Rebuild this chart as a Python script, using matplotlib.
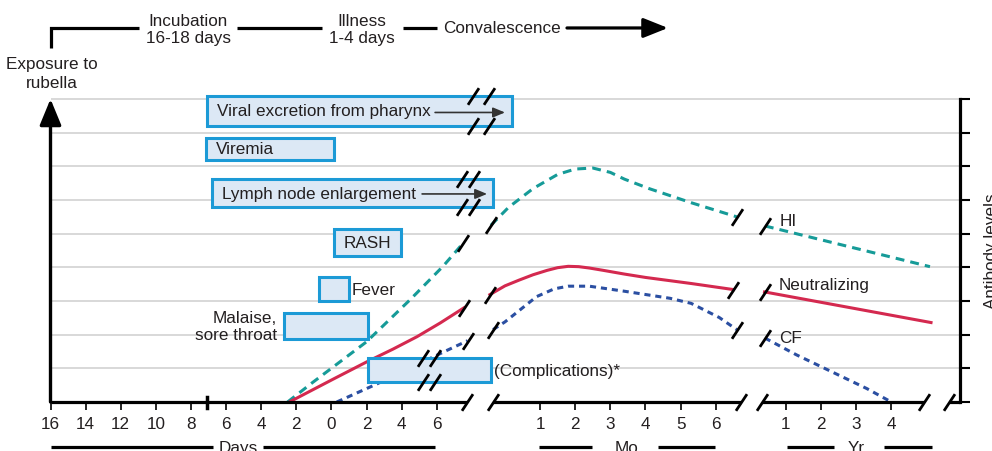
import matplotlib.pyplot as plt
import numpy as np

plt.rcParams['font.family'] = ['Liberation Sans', 'DejaVu Sans']

TEXT = '#231f20'
TEAL = '#169b98'
RED = '#d4294f'
BLUE = '#2b4fa2'
BOX_EDGE = '#1c9ad6'
BOX_FILL = '#dce8f5'
GRID = '#d2d2d2'
FS = 12.3


# x axis is in days; months and years are squeezed in after the breaks
def mo(m):
    return 9.88 + 2 * np.asarray(m, float)


def yr(y):
    return 23.88 + 2 * np.asarray(y, float)


# tick labels
day_ticks = list(range(-16, 7, 2))
day_labels = [str(abs(d)) for d in day_ticks]
month_ticks = [1, 2, 3, 4, 5, 6]
year_ticks = [1, 2, 3, 4]

# antibody curves (level in grid steps)
hi_days = [-2.5, -1.1, 2.0, 4.5, 6.35, 7.5]
hi_days_lvl = [0, 0.57, 1.79, 3.05, 4.03, 4.72]
hi_months = [-0.4, 0.1, 0.8, 1.5, 2.0, 2.5, 3.0, 3.4, 4.1, 5.3, 6.6]
hi_months_lvl = [5.25, 5.78, 6.34, 6.76, 6.92, 6.95, 6.82, 6.62, 6.34, 5.92, 5.5]
hi_years = [0.4, 5.1]
hi_years_lvl = [5.23, 4.02]

neut_days = [-2.4, 0.1, 2.0, 3.5, 4.87, 6.2, 7.55]
neut_days_lvl = [0, 0.68, 1.19, 1.57, 1.94, 2.35, 2.8]
neut_months = [-0.43, 0.0, 0.4, 0.8, 1.2, 1.5, 1.8, 2.1, 2.4, 2.8, 3.4, 4.0, 5.3, 6.5]
neut_months_lvl = [3.19, 3.45, 3.62, 3.78, 3.91, 3.99, 4.03, 4.02, 3.98, 3.91,
                   3.8, 3.70, 3.52, 3.34]
neut_years = [0.39, 5.13]
neut_years_lvl = [3.27, 2.36]

cf_days = [0.3, 2.6, 6.4, 7.75]
cf_days_lvl = [0, 0.54, 1.49, 1.82]
cf_months = [-0.34, 0.0, 0.9, 1.4, 1.8, 2.4, 3.4, 4.7, 5.3, 6.1, 6.6]
cf_months_lvl = [2.15, 2.38, 3.13, 3.36, 3.44, 3.44, 3.29, 3.08, 2.93, 2.51, 2.15]
cf_years = [0.4, 1.3, 2.3, 3.3, 4.0]
cf_years_lvl = [1.9, 1.4, 0.9, 0.4, 0.0]

# clinical events: start / end day
events = ['Viral excretion from pharynx', 'Viremia', 'Lymph node enlargement',
          'RASH', 'Fever', 'Malaise,\nsore throat', '(Complications)*']
ev_start = [-7.09, -7.14, -6.8, 0.15, -0.71, -2.7, 2.08]
ev_end = [10.28, 0.15, 9.2, 3.96, 1.0, 2.08, 9.08]

# layout of the event rows
rows = [(8.2, 9.09), (7.19, 7.84), (5.79, 6.62), (4.34, 5.14),
        (3.0, 3.71), (1.87, 2.64), (0.59, 1.31)]
label_pos = ['in', 'in', 'in', 'center', 'right', 'left', 'right']

SLASH = [(-0.33, -0.5), (0.33, 0.5)]


def slash(ax, xs, ys, size=12):
    ax.plot(xs, ys, ls='none', marker=SLASH, ms=size, mec='k', mew=2,
            clip_on=False, zorder=6)


fig = plt.figure(figsize=(9.92, 4.52), dpi=100)
ax = fig.add_axes([50.5 / 992, 49 / 452, 909.5 / 992, 303 / 452])
x_right = float(yr(5.955))
ax.set_xlim(-16, x_right)
ax.set_ylim(0, 9)
for s in ax.spines.values():
    s.set_visible(False)

# grid lines
ax.hlines(np.arange(1, 10), -16, x_right, color=GRID, lw=1.2, zorder=0, clip_on=False)

# x ticks
xt = day_ticks + list(mo(month_ticks)) + list(yr(year_ticks))
xl = day_labels + [str(m) for m in month_ticks] + [str(y) for y in year_ticks]
ax.set_xticks(xt, xl)
ax.set_yticks([])
ax.tick_params(axis='x', direction='out', length=6, width=1.2, pad=4,
               labelsize=FS, labelcolor=TEXT, color='k')

# broken bottom axis
seg = dict(color='k', lw=2.3, clip_on=False, solid_capstyle='butt', zorder=5)
ax.plot([-16, 7.72], [0, 0], **seg)
ax.plot(mo([-0.34, 6.71]), [0, 0], **seg)
ax.plot(yr([0.31, 4.94]), [0, 0], **seg)
ax.plot(yr([5.63, 5.955]), [0, 0], **seg)
slash(ax, [7.72, mo(-0.34), mo(6.71), yr(0.31), yr(4.94), yr(5.63)], [0] * 6)
ax.plot([-7.1, -7.1], [-0.18, 0.15], color='k', lw=2.5, clip_on=False)

# left axis arrow
ax.annotate('', xy=(-16, 9.0), xytext=(-16, 0), annotation_clip=False,
            arrowprops=dict(arrowstyle='-|>,head_length=0.8,head_width=0.33',
                            mutation_scale=20, lw=2.4, color='k',
                            shrinkA=0, shrinkB=0))

# right axis
ax2 = ax.twinx()
ax2.set_ylim(0, 9)
ax2.set_yticks(range(10))
ax2.set_yticklabels([])
for s in ['left', 'top', 'bottom']:
    ax2.spines[s].set_visible(False)
ax2.spines['right'].set_linewidth(2.3)
ax2.tick_params(axis='y', direction='out', length=7, width=1.5)
ax2.set_ylabel('Antibody levels', fontsize=FS, labelpad=7, color=TEXT)

# antibody curves
curves = [
    (hi_days, hi_days_lvl, hi_months, hi_months_lvl, hi_years, hi_years_lvl,
     TEAL, (0, (2.9, 2.0))),
    (neut_days, neut_days_lvl, neut_months, neut_months_lvl, neut_years,
     neut_years_lvl, RED, '-'),
    (cf_days, cf_days_lvl, cf_months, cf_months_lvl, cf_years, cf_years_lvl,
     BLUE, (0, (2.0, 1.6))),
]
for d, dl, m, ml, y, yl, col, ls in curves:
    ax.plot(d, dl, color=col, lw=2.2, ls=ls, zorder=2)
    ax.plot(mo(m), ml, color=col, lw=2.2, ls=ls, zorder=2)
    ax.plot(yr(y), yl, color=col, lw=2.2, ls=ls, zorder=2)
    slash(ax, [d[-1], mo(m[0]), mo(m[-1]), yr(y[0])], [dl[-1], ml[0], ml[-1], yl[0]])

ax.text(yr(0.83), 5.4, 'HI', fontsize=FS, color=TEXT, va='center')
ax.text(yr(0.8), 3.5, 'Neutralizing', fontsize=FS, color=TEXT, va='center')
ax.text(yr(0.8), 1.93, 'CF', fontsize=FS, color=TEXT, va='center')

# event boxes
for name, x0, x1, (y0, y1), lp in zip(events, ev_start, ev_end, rows, label_pos):
    ax.add_patch(plt.Rectangle((x0, y0), x1 - x0, y1 - y0, fc=BOX_FILL,
                               ec=BOX_EDGE, lw=2.2, zorder=4, clip_on=False))
    yc = (y0 + y1) / 2
    if lp == 'in':
        ax.text(x0 + 0.55, yc, name, fontsize=FS, color=TEXT, va='center', zorder=7)
    elif lp == 'center':
        ax.text((x0 + x1) / 2, yc, name, fontsize=FS, color=TEXT,
                ha='center', va='center', zorder=7)
    elif lp == 'right':
        ax.text(x1 + 0.15, yc, name, fontsize=FS, color=TEXT, va='center', zorder=7)
    else:
        ax.text(x0 - 0.4, yc, name, fontsize=FS, color=TEXT, ha='right',
                va='center', multialignment='right', linespacing=1.2, zorder=7)

arrow_kw = dict(arrowstyle='-|>,head_length=0.6,head_width=0.25',
                mutation_scale=12, lw=1.2, color='#333333', shrinkA=0, shrinkB=0)
ax.annotate('', xy=(9.88, 8.6), xytext=(5.9, 8.6), arrowprops=arrow_kw, zorder=7,
            annotation_clip=False)
ax.annotate('', xy=(8.86, 6.18), xytext=(5.16, 6.18), arrowprops=arrow_kw, zorder=7,
            annotation_clip=False)

# breaks across the boxes
slash(ax, [8.06, 8.97, 8.06, 8.97], [9.09, 9.09, 8.2, 8.2])
slash(ax, [7.43, 8.12, 7.43, 8.12], [6.62, 6.62, 5.79, 5.79])
slash(ax, [5.21, 5.9, 5.21, 5.9], [1.31, 1.31, 0.59, 0.59])

# header: phases of infection
hdr = dict(color='k', lw=2.3, clip_on=False, solid_capstyle='butt')
ax.plot([-16, -16, -10.96], [10.51, 11.11, 11.11], solid_joinstyle='miter', **hdr)
ax.text(-8.16, 11.08, 'Incubation\n16-18 days', fontsize=FS, color=TEXT,
        ha='center', va='center', linespacing=1.2)
ax.plot([-5.38, -0.54], [11.11, 11.11], **hdr)
ax.text(1.74, 11.08, 'Illness\n1-4 days', fontsize=FS, color=TEXT,
        ha='center', va='center', linespacing=1.2)
ax.plot([4.07, 6.0], [11.11, 11.11], **hdr)
ax.text(6.35, 11.11, 'Convalescence', fontsize=FS, color=TEXT, va='center')
ax.annotate('', xy=(19.16, 11.11), xytext=(13.41, 11.11), annotation_clip=False,
            arrowprops=dict(arrowstyle='-|>,head_length=0.75,head_width=0.3',
                            mutation_scale=20, lw=2.3, color='k',
                            shrinkA=0, shrinkB=0))
ax.text(-15.9, 9.77, 'Exposure to\nrubella', fontsize=FS, color=TEXT,
        ha='center', va='center', linespacing=1.3)

# unit labels under the axis
ax.text(-5.31, -1.13, 'Days', fontsize=FS, color=TEXT, ha='center', va='top')
ax.plot([-16, -6.75], [-1.33, -1.33], **hdr)
ax.plot([-3.9, 5.9], [-1.33, -1.33], **hdr)
ax.text(mo(3.46), -1.13, 'Mo', fontsize=FS, color=TEXT, ha='center', va='top')
ax.plot(mo([0.97, 2.49]), [-1.33, -1.33], **hdr)
ax.plot(mo([4.37, 5.97]), [-1.33, -1.33], **hdr)
ax.text(yr(3.0), -1.13, 'Yr', fontsize=FS, color=TEXT, ha='center', va='top')
ax.plot(yr([1.03, 2.37]), [-1.33, -1.33], **hdr)
ax.plot(yr([3.8, 5.17]), [-1.33, -1.33], **hdr)

fig.savefig('out.png', dpi=100)
